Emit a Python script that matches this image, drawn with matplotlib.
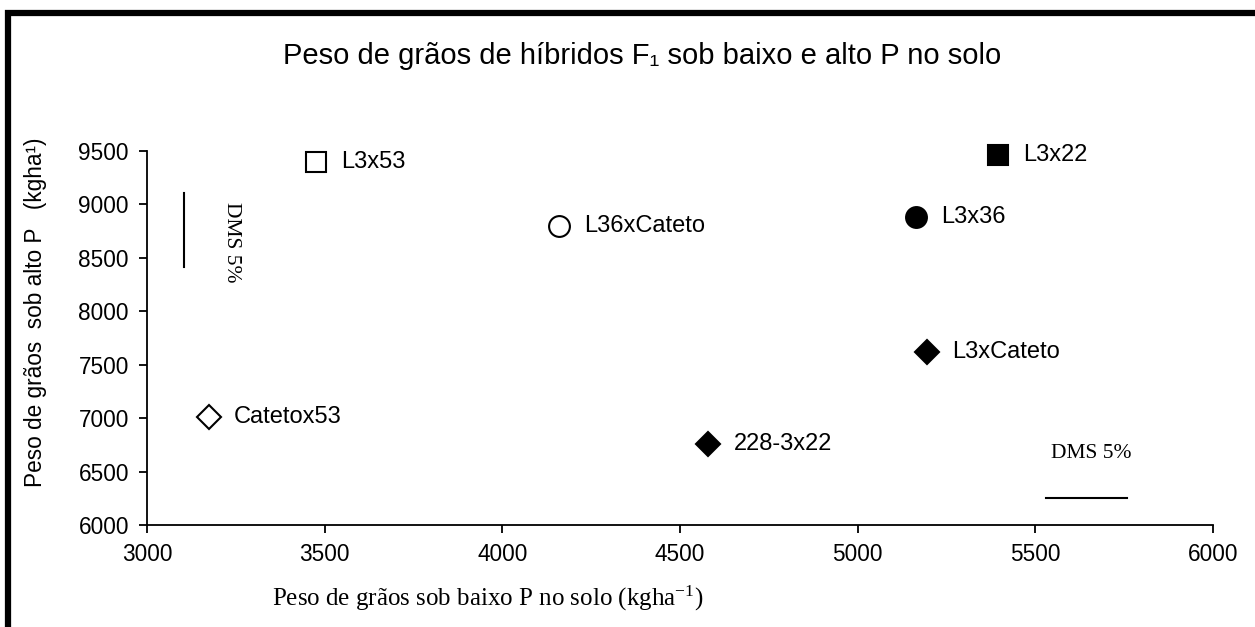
import matplotlib
matplotlib.use("Agg")
import matplotlib.pyplot as plt
from matplotlib.patches import Rectangle

plt.rcParams["font.family"] = ["Liberation Sans", "DejaVu Sans"]
plt.rcParams["mathtext.fontset"] = "custom"
plt.rcParams["mathtext.rm"] = "Liberation Serif"
plt.rcParams["mathtext.it"] = "Liberation Serif:italic"

# Grain weight of F1 hybrids (kg/ha) under low P (x) and high P (y)
hybrids = ["L3x53", "L36xCateto", "L3x22", "L3x36", "L3xCateto", "228-3x22", "Catetox53"]
low_p = [3475, 4160, 5395, 5165, 5195, 4580, 3175]
high_p = [9400, 8800, 9460, 8880, 7620, 6760, 7010]
markers = ["s", "o", "s", "o", "D", "D", "D"]
filled = [False, False, True, True, True, True, False]

# Least significant difference (DMS 5%) bars
dms_vertical_x = 3105
dms_vertical_y = [8415, 9105]
dms_horizontal_x = [5530, 5757]
dms_horizontal_y = 6253

x_ticks = [3000, 3500, 4000, 4500, 5000, 5500, 6000]
y_ticks = [6000, 6500, 7000, 7500, 8000, 8500, 9000, 9500]

fig = plt.figure(figsize=(12.55, 6.27), dpi=100)
ax = fig.add_axes([0.1171, 0.1627, 0.8494, 0.5965])

sizes = {"s": 14.5, "o": 15, "D": 12}
for name, x, y, m, f in zip(hybrids, low_p, high_p, markers, filled):
    ax.plot(x, y, marker=m, linestyle="none", markersize=sizes[m],
            markerfacecolor="black" if f else "white",
            markeredgecolor="black", markeredgewidth=1.5, clip_on=False)
    ax.annotate(name, (x, y), xytext=(18, 0), textcoords="offset points",
                va="center", ha="left", fontsize=17)

ax.plot([dms_vertical_x, dms_vertical_x], dms_vertical_y, color="black", lw=1.5)
ax.plot(dms_horizontal_x, [dms_horizontal_y, dms_horizontal_y], color="black", lw=1.5)
ax.text(3238, 8650, "DMS 5%", rotation=270, ha="center", va="center",
        family="Liberation Serif", fontsize=15.5)
ax.text(5657, 6670, "DMS 5%", ha="center", va="center",
        family="Liberation Serif", fontsize=15.5)

ax.set_xlim(3000, 6000)
ax.set_ylim(6000, 9500)
ax.set_xticks(x_ticks)
ax.set_yticks(y_ticks)
ax.tick_params(direction="out", length=6, width=1.3, labelsize=16.3, pad=7)
ax.spines["top"].set_visible(False)
ax.spines["right"].set_visible(False)
for s in ("left", "bottom"):
    ax.spines[s].set_linewidth(1.3)

fig.text(0.0285, 0.502, "Peso de grãos  sob alto P   (kgha¹)", rotation=90,
         ha="center", va="center", fontsize=16.3)
fig.text(0.389, 0.045, r"Peso de grãos sob baixo P no solo (kgha$^{-1}$)",
         ha="center", va="center", family="Liberation Serif", fontsize=18)
fig.text(0.512, 0.91, "Peso de grãos de híbridos F₁ sob baixo e alto P no solo",
         ha="center", va="center", fontsize=21)

fig.patches.append(Rectangle((0.0065, -0.2), 1.2, 1.18, transform=fig.transFigure,
                             fill=False, edgecolor="black", linewidth=4.5))

fig.savefig("out.png", dpi=100)
